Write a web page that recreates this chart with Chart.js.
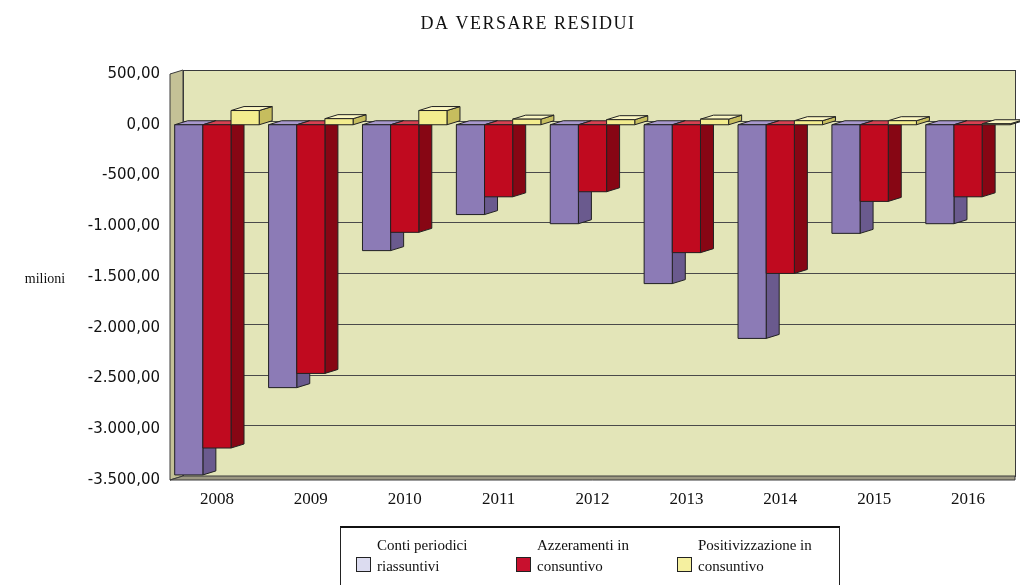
<!DOCTYPE html>
<html>
<head>
<meta charset="utf-8">
<script src="https://cdn.jsdelivr.net/npm/chart.js@4/dist/chart.umd.min.js"></script>
<style>
body { margin: 0; background: #fff; }
#wrap { position: relative; width: 1020px; height: 585px; }
#legend {
    position: absolute; left: 340px; top: 526px; width: 500px; height: 62px;
    border: 1px solid #222; border-top: 2px solid #111; box-sizing: border-box;
    font-family: "Liberation Serif", serif; font-size: 15px; line-height: 21px; color: #111;
}
#legend .item { position: absolute; top: 7px; }
#legend .box { position: absolute; top: 22px; width: 13px; height: 13px; border: 1px solid #222; }
#legend .txt { position: absolute; top: 0; white-space: nowrap; }
</style>
</head>
<body>
<div id="wrap">
<canvas id="myChart" width="1020" height="585"></canvas>
<div id="legend"></div>
</div>
<script>
var years = ['2008', '2009', '2010', '2011', '2012', '2013', '2014', '2015', '2016'];
var contiPeriodici = [-3450, -2590, -1240, -885, -975, -1565, -2105, -1070, -975];
var azzeramenti = [-3185, -2450, -1060, -710, -660, -1260, -1465, -755, -710];
var positivizzazione = [140, 60, 140, 55, 50, 55, 40, 40, 10];
var seriesNames = [['Conti periodici', 'riassuntivi'], ['Azzeramenti in', 'consuntivo'], ['Positivizzazione in', 'consuntivo']];
var yMin = -3500, yMax = 500, yStep = 500;

// front / side / top colours for the fake 3D
var faces = [
    { front: '#8c7bb6', side: '#6a5a8e', top: '#a898cc', legend: '#dcdcf0' },
    { front: '#c00a1f', side: '#870614', top: '#d64252', legend: '#c8102e' },
    { front: '#f3ed8e', side: '#c6bd5e', top: '#faf6c2', legend: '#f5f0a0' }
];
var dx = 13, dy = 4;

function fmt(v) {
    var parts = Math.abs(v).toFixed(2).split('.');
    var intPart = parts[0].replace(/\B(?=(\d{3})+(?!\d))/g, '.');
    return (v < 0 ? '-' : '') + intPart + ',' + parts[1];
}

function poly(ctx, pts, fill) {
    ctx.beginPath();
    ctx.moveTo(pts[0][0], pts[0][1]);
    for (var i = 1; i < pts.length; i++) ctx.lineTo(pts[i][0], pts[i][1]);
    ctx.closePath();
    ctx.fillStyle = fill;
    ctx.fill();
    ctx.stroke();
}

var walls = {
    id: 'walls',
    beforeDatasetsDraw: function (chart) {
        var ctx = chart.ctx, a = chart.chartArea, y = chart.scales.y;
        ctx.save();
        ctx.strokeStyle = '#3a3a3a';
        ctx.lineWidth = 1;
        // back wall
        ctx.fillStyle = '#e3e5b8';
        ctx.fillRect(a.left + dx, a.top - dy, a.right - a.left - dx, a.bottom - a.top);
        ctx.strokeRect(a.left + dx + 0.5, a.top - dy + 0.5, a.right - a.left - dx, a.bottom - a.top);
        // left wall
        poly(ctx, [[a.left, a.top], [a.left + dx, a.top - dy], [a.left + dx, a.bottom - dy], [a.left, a.bottom]], '#c4c196');
        // floor
        poly(ctx, [[a.left, a.bottom], [a.left + dx, a.bottom - dy], [a.right, a.bottom - dy], [a.right, a.bottom]], '#9c9882');
        // gridlines on the back wall
        ctx.strokeStyle = '#4a4a4a';
        for (var v = yMin + yStep; v < yMax; v += yStep) {
            var py = Math.round(y.getPixelForValue(v) - dy) + 0.5;
            ctx.beginPath();
            ctx.moveTo(a.left + dx, py);
            ctx.lineTo(a.right, py);
            ctx.stroke();
        }
        ctx.restore();
    },
    afterDatasetsDraw: function (chart) {
        var ctx = chart.ctx;
        ctx.save();
        ctx.strokeStyle = '#222';
        ctx.lineWidth = 1;
        for (var i = 0; i < years.length; i++) {
            for (var d = 0; d < chart.data.datasets.length; d++) {
                var bar = chart.getDatasetMeta(d).data[i];
                var l = bar.x - bar.width / 2, r = bar.x + bar.width / 2;
                var t = Math.min(bar.y, bar.base), b = Math.max(bar.y, bar.base);
                var f = faces[d];
                poly(ctx, [[r, t], [r + dx, t - dy], [r + dx, b - dy], [r, b]], f.side);
                poly(ctx, [[l, t], [l + dx, t - dy], [r + dx, t - dy], [r, t]], f.top);
                poly(ctx, [[l, t], [r, t], [r, b], [l, b]], f.front);
            }
        }
        ctx.restore();
    },
    afterDraw: function (chart) {
        var ctx = chart.ctx;
        ctx.save();
        ctx.fillStyle = '#111';
        ctx.textAlign = 'center';
        ctx.textBaseline = 'middle';
        ctx.font = '18px "Liberation Serif"';
        ctx.letterSpacing = '1.5px';
        ctx.fillText('DA VERSARE RESIDUI', 528, 24);
        ctx.letterSpacing = '0px';
        ctx.font = '14px "Liberation Serif"';
        ctx.fillText('milioni', 45, 279);
        ctx.restore();
    }
};

var ctx = document.getElementById('myChart');
var myChart = new Chart(ctx, {
    type: 'bar',
    data: {
        labels: years,
        datasets: [
            { label: seriesNames[0].join(' '), data: contiPeriodici, backgroundColor: faces[0].front },
            { label: seriesNames[1].join(' '), data: azzeramenti, backgroundColor: faces[1].front },
            { label: seriesNames[2].join(' '), data: positivizzazione, backgroundColor: faces[2].front }
        ]
    },
    options: {
        responsive: false,
        animation: false,
        datasets: { bar: { categoryPercentage: 0.9, barPercentage: 1 } },
        layout: { padding: { top: 74, right: 5, left: 0, bottom: 0 } },
        plugins: {
            legend: { display: false },
            title: { display: false },
            tooltip: { enabled: false }
        },
        scales: {
            x: {
                grid: { display: false, drawTicks: false },
                border: { display: false },
                ticks: { font: { family: 'Liberation Serif', size: 17 }, color: '#111', padding: 9, maxRotation: 0 },
                afterFit: function (s) { s.height = 105; }
            },
            y: {
                min: yMin, max: yMax,
                grid: { display: false, drawTicks: false },
                border: { display: false },
                ticks: { stepSize: yStep, callback: fmt, font: { family: 'DejaVu Sans', size: 15 }, color: '#111', padding: 10 },
                afterFit: function (s) { s.width = 170; }
            }
        }
    },
    plugins: [walls]
});

// legend built from the series
var legendX = [15, 175, 336];
var html = '';
for (var k = 0; k < seriesNames.length; k++) {
    html += '<div class="item" style="left:' + legendX[k] + 'px">' +
        '<div class="box" style="left:0;background:' + faces[k].legend + '"></div>' +
        '<div class="txt" style="left:21px">' + seriesNames[k][0] + '<br>' + seriesNames[k][1] + '</div></div>';
}
document.getElementById('legend').innerHTML = html;
</script>
</body>
</html>
